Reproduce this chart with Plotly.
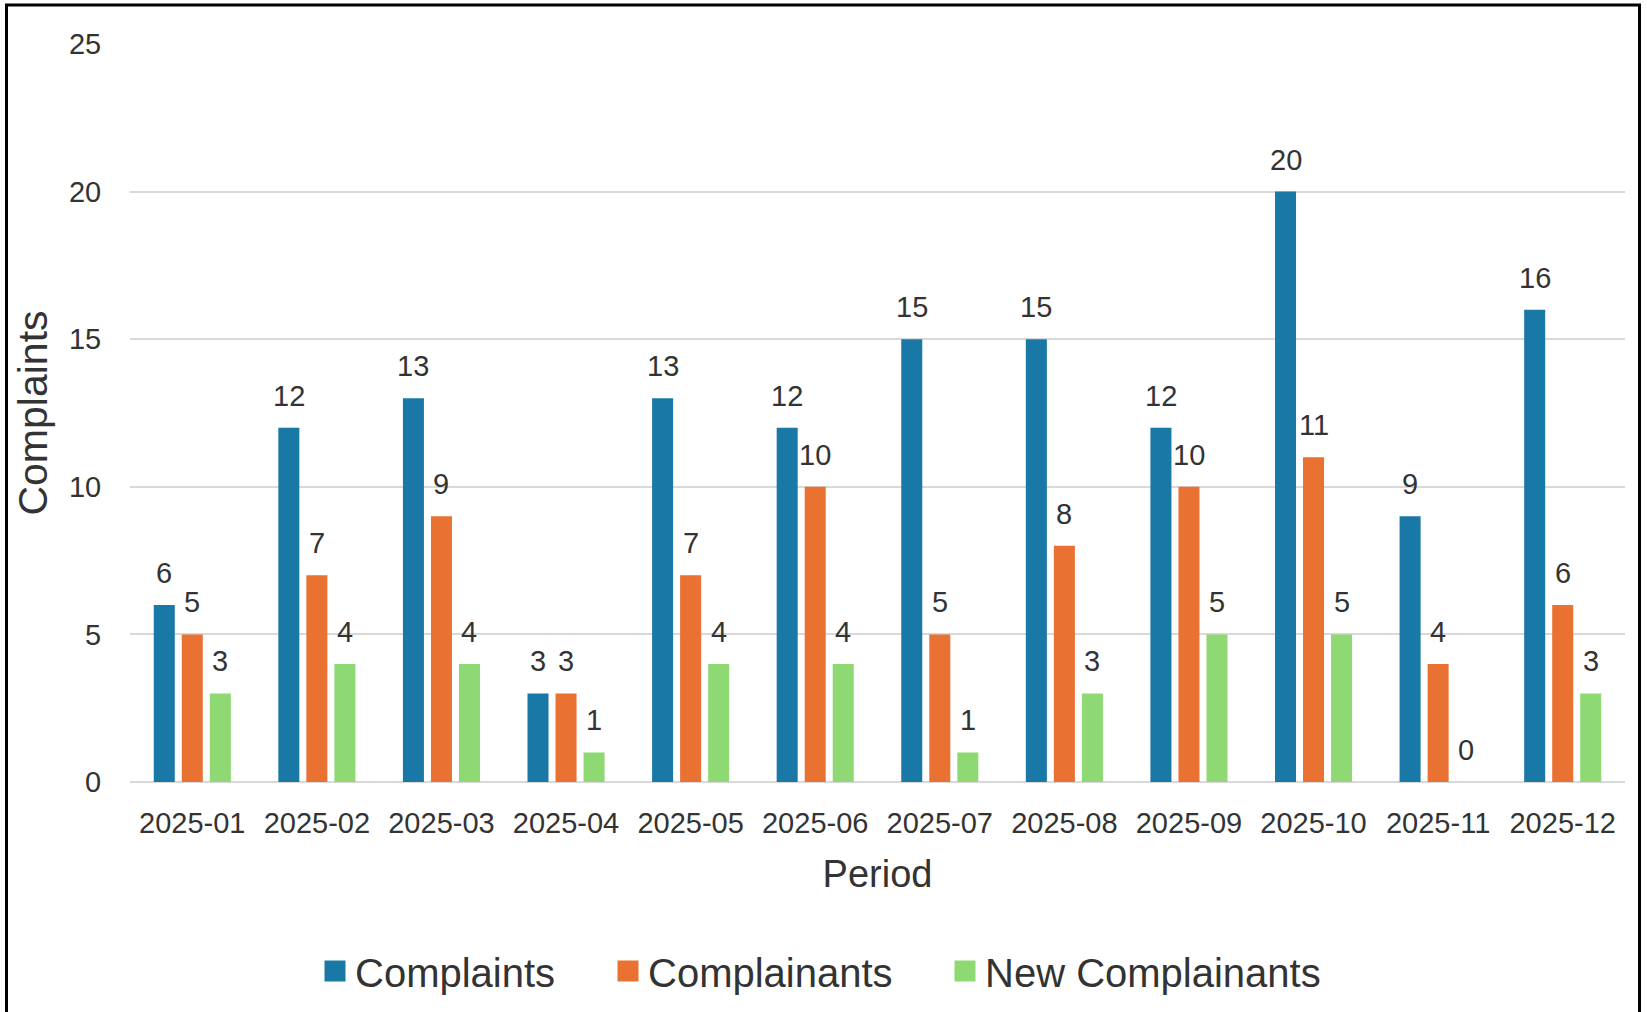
import plotly.graph_objects as go

# ---- data ----
periods = ["2025-01", "2025-02", "2025-03", "2025-04", "2025-05", "2025-06",
           "2025-07", "2025-08", "2025-09", "2025-10", "2025-11", "2025-12"]
complaints = [6, 12, 13, 3, 13, 12, 15, 15, 12, 20, 9, 16]
complainants = [5, 7, 9, 3, 7, 10, 5, 8, 10, 11, 4, 6]
new_complainants = [3, 4, 4, 1, 4, 4, 1, 3, 5, 5, 0, 3]
series_names = ["Complaints", "Complainants", "New Complainants"]
y_ticks = [0, 5, 10, 15, 20, 25]

# ---- style ----
colors = ["#1a78a6", "#e97132", "#8ed973"]
W, H = 1647, 1012
L, R, T, B = 130, 22, 44, 230
PW, PH = W - L - R, H - T - B
BARGAP, GROUPGAP = 0.325, 0.25
FONT = "Liberation Sans, Arial, sans-serif"
TXT = "#333333"
GRID = "#d9d9d9"
legend_centers_px = [335, 628, 965]   # swatch centres of the three legend entries

series = [complaints, complainants, new_complainants]

fig = go.Figure()
for name, vals, col in zip(series_names, series, colors):
    fig.add_trace(go.Bar(x=periods, y=vals, name=name, marker_color=col,
                         marker_line_width=0, showlegend=False))

# legend entries: one legend per series so that spacing matches
legend_ids = ["legend", "legend2", "legend3"]
for name, col, lid in zip(series_names, colors, legend_ids):
    fig.add_trace(go.Scatter(x=[None], y=[None], mode="markers", name=name,
                             legend=lid,
                             marker=dict(symbol="square", size=16, color=col,
                                         line=dict(color=col, width=5))))

# data labels
slot = (1 - BARGAP) / len(series)
for k, vals in enumerate(series):
    off = (k - (len(series) - 1) / 2) * slot
    for i, v in enumerate(vals):
        fig.add_annotation(x=i + off, y=v, xref="x", yref="y", text=str(v),
                           showarrow=False, yanchor="bottom", yshift=14,
                           font=dict(family=FONT, size=29, color=TXT))

# outer frame
def px_x(p):
    return (p - L) / PW

def px_y(p):
    return (H - B - p) / PH

fig.add_shape(type="rect", xref="paper", yref="paper",
              x0=px_x(6.5), x1=px_x(1639.5), y0=px_y(1030), y1=px_y(5),
              line=dict(color="black", width=3), fillcolor="rgba(0,0,0,0)")

legend_common = dict(orientation="h", xref="container", yref="container",
                     xanchor="left", y=1 - 971 / H, yanchor="middle",
                     font=dict(family=FONT, size=40, color=TXT),
                     itemwidth=30, bgcolor="rgba(0,0,0,0)", borderwidth=0)
legends = {}
for lid, cx in zip(legend_ids, legend_centers_px):
    legends[lid] = dict(legend_common, x=(cx - 20) / W)

fig.update_layout(
    width=W, height=H,
    margin=dict(l=L, r=R, t=T, b=B, pad=0),
    paper_bgcolor="white", plot_bgcolor="white",
    barmode="group", bargap=BARGAP, bargroupgap=GROUPGAP,
    font=dict(family=FONT, color=TXT),
    **legends,
)
fig.update_xaxes(type="category", showgrid=False, showline=False, zeroline=False,
                 ticks="outside", ticklen=15, tickcolor="rgba(0,0,0,0)",
                 tickfont=dict(family=FONT, size=29, color=TXT),
                 title=dict(text="Period", font=dict(family=FONT, size=38, color=TXT),
                            standoff=22))
fig.update_yaxes(range=[0, 25], tickvals=y_ticks, showgrid=True, gridcolor=GRID,
                 gridwidth=2, zeroline=True, zerolinecolor=GRID, zerolinewidth=2,
                 showline=False, ticks="outside", ticklen=22,
                 tickcolor="rgba(0,0,0,0)",
                 tickfont=dict(family=FONT, size=29, color=TXT),
                 title=dict(text="Complaints", font=dict(family=FONT, size=41, color=TXT),
                            standoff=8))

fig.write_html("out.html", config={"displayModeBar": False},
               post_script="document.body.style.margin='0';")
